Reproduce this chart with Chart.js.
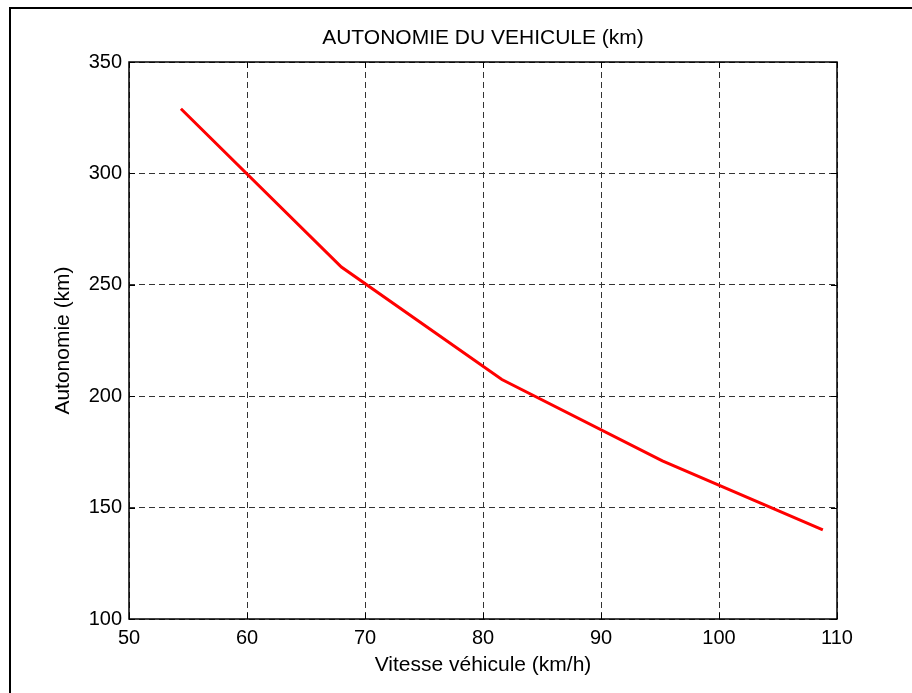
<!DOCTYPE html>
<html>
<head>
<meta charset="utf-8">
<script src="https://cdn.jsdelivr.net/npm/chart.js@4.4.0/dist/chart.umd.min.js"></script>
<style>
  html, body { margin: 0; padding: 0; background: #fff; }
  #wrap { width: 912px; height: 693px; position: relative; }
</style>
</head>
<body>
<div id="wrap"><canvas id="my-chart" width="912" height="693"></canvas></div>
<script>
// values
const speeds = [54.4, 68.0, 81.6, 95.2, 108.8];
const ranges = [329, 258, 207.5, 171, 140];
const xTicks = [50, 60, 70, 80, 90, 100, 110];
const yTicks = [100, 150, 200, 250, 300, 350];

const chartTitle = 'AUTONOMIE DU VEHICULE (km)';
const xLabel = 'Vitesse véhicule (km/h)';
const yLabel = 'Autonomie (km)';

const FONT = 'Liberation Sans, Arial, Helvetica, sans-serif';

// outer figure frame (top + left edges only are visible)
const framePlugin = {
  id: 'frame',
  // center the title over the plot box, like matlab does
  afterLayout(chart) {
    const tb = chart.titleBlock;
    if (tb) {
      tb.left = chart.chartArea.left;
      tb.right = chart.chartArea.right;
      tb.width = tb.right - tb.left;
    }
  },
  beforeDraw(chart) {
    const ctx = chart.ctx;
    ctx.save();
    ctx.fillStyle = '#fff';
    ctx.fillRect(0, 0, chart.width, chart.height);
    ctx.strokeStyle = '#000';
    ctx.lineWidth = 2;
    ctx.beginPath();
    ctx.moveTo(chart.width, 8);
    ctx.lineTo(10, 8);
    ctx.lineTo(10, chart.height);
    ctx.stroke();
    ctx.restore();
  },
};

// matlab style box with inward ticks on all four sides
const boxPlugin = {
  id: 'box',
  afterDraw(chart) {
    const { ctx, chartArea: a } = chart;
    const xs = chart.scales.x;
    const ys = chart.scales.y;
    const len = 6;
    ctx.save();
    ctx.strokeStyle = '#000';
    ctx.lineWidth = 1.5;
    ctx.strokeRect(a.left, a.top, a.right - a.left, a.bottom - a.top);
    ctx.lineWidth = 1;
    ctx.beginPath();
    xTicks.forEach((v) => {
      const px = Math.round(xs.getPixelForValue(v)) + 0.5;
      ctx.moveTo(px, a.bottom);
      ctx.lineTo(px, a.bottom - len);
      ctx.moveTo(px, a.top);
      ctx.lineTo(px, a.top + len);
    });
    yTicks.forEach((v) => {
      const py = Math.round(ys.getPixelForValue(v)) + 0.5;
      ctx.moveTo(a.left, py);
      ctx.lineTo(a.left + len, py);
      ctx.moveTo(a.right, py);
      ctx.lineTo(a.right - len, py);
    });
    ctx.stroke();
    ctx.restore();
  },
};

const ctx = document.getElementById('my-chart').getContext('2d');

const myChart = new Chart(ctx, {
  type: 'line',
  data: {
    datasets: [
      {
        data: speeds.map((s, i) => ({ x: s, y: ranges[i] })),
        borderColor: '#ff0000',
        borderWidth: 3,
        pointRadius: 0,
        fill: false,
        tension: 0,
      },
    ],
  },
  options: {
    responsive: false,
    animation: false,
    layout: { padding: { top: 0, left: 0, right: 75, bottom: 0 } },
    plugins: {
      legend: { display: false },
      tooltip: { enabled: false },
      title: {
        display: true,
        text: chartTitle,
        color: '#000',
        font: { family: FONT, size: 21, weight: 'normal', lineHeight: 1.2 },
        padding: { top: 26, bottom: 10.8 },
      },
    },
    scales: {
      x: {
        type: 'linear',
        min: 50,
        max: 110,
        afterBuildTicks(scale) {
          scale.ticks = xTicks.map((v) => ({ value: v }));
        },
        afterFit(scale) {
          scale.height = 74;
        },
        grid: {
          color: '#333',
          drawTicks: false,
          lineWidth: 1,
        },
        border: { display: false, dash: [6, 4] },
        ticks: {
          color: '#000',
          padding: 7,
          maxRotation: 0,
          font: { family: FONT, size: 20 },
        },
        title: {
          display: true,
          text: xLabel,
          color: '#000',
          font: { family: FONT, size: 21, lineHeight: 1.2 },
          padding: { top: 0, bottom: 15 },
        },
      },
      y: {
        type: 'linear',
        min: 100,
        max: 350,
        afterBuildTicks(scale) {
          scale.ticks = yTicks.map((v) => ({ value: v }));
        },
        afterFit(scale) {
          scale.width = 129;
        },
        grid: {
          color: '#333',
          drawTicks: false,
          lineWidth: 1,
        },
        border: { display: false, dash: [6, 4] },
        ticks: {
          color: '#000',
          padding: 7,
          font: { family: FONT, size: 20 },
        },
        title: {
          display: true,
          text: yLabel,
          color: '#000',
          font: { family: FONT, size: 21, lineHeight: 1.2 },
          padding: { top: 51, bottom: 0 },
        },
      },
    },
  },
  plugins: [framePlugin, boxPlugin],
});
</script>
</body>
</html>
